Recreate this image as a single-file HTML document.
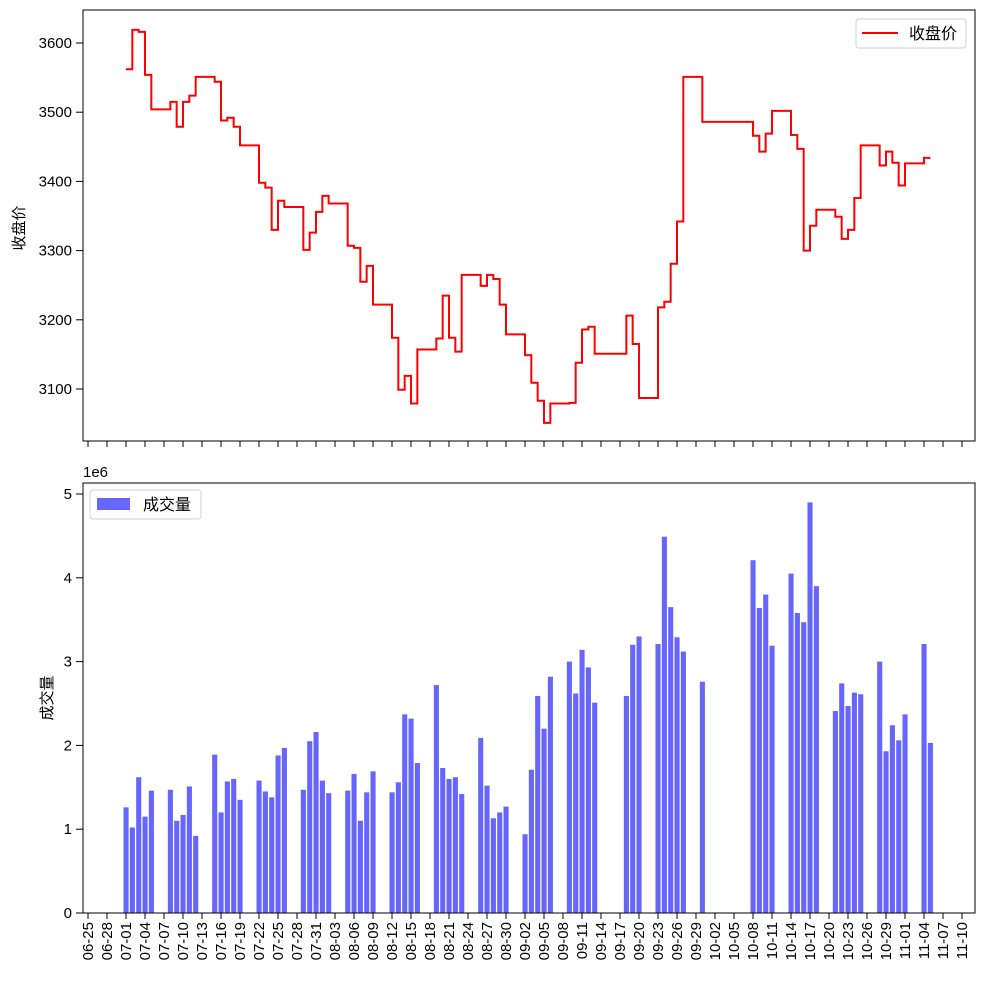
<!DOCTYPE html>
<html><head><meta charset="utf-8">
<style>
html,body{margin:0;padding:0;background:#fff;}
svg{display:block;font-family:"Liberation Sans","Noto Sans CJK SC",sans-serif;}
</style></head>
<body>
<svg id="chart" width="984" height="984" viewBox="0 0 984 984" xmlns="http://www.w3.org/2000/svg">
<rect x="0" y="0" width="984" height="984" fill="#fff"/>
<g id="topPanel"></g>
<g id="botPanel"></g>
</svg>
<script>
const dates = ["07-01","07-02","07-03","07-04","07-05","07-08","07-09","07-10","07-11","07-12","07-15","07-16","07-17","07-18","07-19","07-22","07-23","07-24","07-25","07-26","07-29","07-30","07-31","08-01","08-02","08-05","08-06","08-07","08-08","08-09","08-12","08-13","08-14","08-15","08-16","08-19","08-20","08-21","08-22","08-23","08-26","08-27","08-28","08-29","08-30","09-02","09-03","09-04","09-05","09-06","09-09","09-10","09-11","09-12","09-13","09-18","09-19","09-20","09-23","09-24","09-25","09-26","09-27","09-30","10-08","10-09","10-10","10-11","10-14","10-15","10-16","10-17","10-18","10-21","10-22","10-23","10-24","10-25","10-28","10-29","10-30","10-31","11-01","11-04","11-05"];
const closePrice = [3562,3619,3616,3554,3504,3515,3479,3515,3524,3551,3544,3488,3492,3479,3452,3398,3391,3330,3372,3363,3301,3326,3356,3379,3368,3307,3304,3255,3278,3222,3174,3099,3119,3079,3157,3173,3235,3174,3154,3265,3249,3265,3259,3222,3179,3149,3109,3083,3051,3079,3080,3138,3186,3190,3151,3206,3165,3087,3218,3226,3281,3342,3551,3486,3466,3443,3469,3502,3467,3447,3300,3336,3359,3349,3317,3330,3376,3452,3423,3443,3427,3394,3426,3434,3434];
const volume = [1.26,1.02,1.62,1.15,1.46,1.47,1.10,1.17,1.51,0.92,1.89,1.20,1.57,1.60,1.35,1.58,1.45,1.38,1.88,1.97,1.47,2.05,2.16,1.58,1.43,1.46,1.66,1.10,1.44,1.69,1.44,1.56,2.37,2.32,1.79,2.72,1.73,1.60,1.62,1.42,2.09,1.52,1.13,1.20,1.27,0.94,1.71,2.59,2.20,2.82,3.00,2.62,3.14,2.93,2.51,2.59,3.20,3.30,3.21,4.49,3.65,3.29,3.12,2.76,4.21,3.64,3.80,3.19,4.05,3.58,3.47,4.90,3.90,2.41,2.74,2.47,2.63,2.61,3.00,1.93,2.24,2.06,2.37,3.21,2.03];
const xTickLabels = ["06-25","06-28","07-01","07-04","07-07","07-10","07-13","07-16","07-19","07-22","07-25","07-28","07-31","08-03","08-06","08-09","08-12","08-15","08-18","08-21","08-24","08-27","08-30","09-02","09-05","09-08","09-11","09-14","09-17","09-20","09-23","09-26","09-29","10-02","10-05","10-08","10-11","10-14","10-17","10-20","10-23","10-26","10-29","11-01","11-04","11-07","11-10"];
const priceTicks = [3100,3200,3300,3400,3500,3600];
const volTicks = [0,1,2,3,4,5];

const NS="http://www.w3.org/2000/svg";
const monthStart={6:0,7:30,8:61,9:92,10:122,11:153};
function dayIdx(s){const m=+s.slice(0,2),d=+s.slice(3);return monthStart[m]+d-(monthStart[6]+25);}
function xScale(s){return 88+dayIdx(s)*6.3333;}
function yPrice(v){return 389-(v-3100)*0.692;}
function yVol(v){return 913-v*83.8;}
function mk(tag,attrs,parent,text){const e=document.createElementNS(NS,tag);for(const k in attrs)e.setAttribute(k,attrs[k]);if(text!==undefined)e.textContent=text;parent.appendChild(e);return e;}

const topG=document.getElementById('topPanel'), botG=document.getElementById('botPanel');
const L=83,R=975;

let d="";
for(let i=0;i<dates.length;i++){
  const x=xScale(dates[i]), y=yPrice(closePrice[i]);
  if(i===0) d+="M"+x+","+y;
  else d+=" V"+y;
  const nx = i<dates.length-1? xScale(dates[i+1]) : x;
  d+=" H"+nx;
}
const line=mk('path',{d:d,fill:'none',stroke:'#ff0000','stroke-width':2},topG);



const tf=mk('rect',{x:L,y:10,width:R-L,height:431,fill:'none',stroke:'#000','stroke-width':1},topG);



priceTicks.forEach(v=>{
  const y=yPrice(v);
  mk('line',{x1:L-7,x2:L,y1:y,y2:y,stroke:'#000'},topG);
  const t=mk('text',{x:72,y:y+5,'text-anchor':'end','font-size':15,fill:'#000'},topG,String(v));
  
  
});
xTickLabels.forEach(s=>{
  const x=xScale(s);
  mk('line',{x1:x,x2:x,y1:441,y2:447,stroke:'#000'},topG);
});
const yl1=mk('text',{transform:'translate(24,228) rotate(-90)','text-anchor':'middle','font-size':15,fill:'#000'},topG,'收盘价');



const lg1=mk('g',{},topG);


mk('rect',{x:856,y:19,width:110,height:29,rx:3,fill:'#fff',stroke:'#d0d0d0'},lg1);
mk('line',{x1:862,x2:898,y1:33,y2:33,stroke:'#ff0000','stroke-width':2},lg1);
mk('text',{x:909,y:39,'font-size':16,fill:'#000'},lg1,'收盘价');

for(let i=0;i<dates.length;i++){
  const x=xScale(dates[i]), y=yVol(volume[i]);
  const b=mk('rect',{x:x-2.5,y:y,width:5.1,height:913-y,fill:'#6666ff'},botG);
  
  
}
const bf=mk('rect',{x:L,y:483,width:R-L,height:430,fill:'none',stroke:'#000','stroke-width':1},botG);


volTicks.forEach(v=>{
  const y=yVol(v);
  mk('line',{x1:L-7,x2:L,y1:y,y2:y,stroke:'#000'},botG);
  const t=mk('text',{x:72,y:y+5,'text-anchor':'end','font-size':15,fill:'#000'},botG,String(v));
  
  
});
xTickLabels.forEach(s=>{
  const x=xScale(s);
  mk('line',{x1:x,x2:x,y1:913,y2:919,stroke:'#000'},botG);
  const t=mk('text',{transform:'translate('+(x+5)+',922) rotate(-90)','text-anchor':'end','font-size':15,fill:'#000'},botG,s);
  
  
});
const ex=mk('text',{x:83,y:477,'font-size':15,fill:'#000'},botG,'1e6');


const yl2=mk('text',{transform:'translate(52,698) rotate(-90)','text-anchor':'middle','font-size':15,fill:'#000'},botG,'成交量');



const lg2=mk('g',{},botG);


mk('rect',{x:90,y:490,width:111,height:29,rx:3,fill:'#fff',stroke:'#d0d0d0'},lg2);
mk('rect',{x:97,y:498,width:33,height:12,fill:'#6666ff'},lg2);
mk('text',{x:143,y:510,'font-size':16,fill:'#000'},lg2,'成交量');
</script>
</body></html>
